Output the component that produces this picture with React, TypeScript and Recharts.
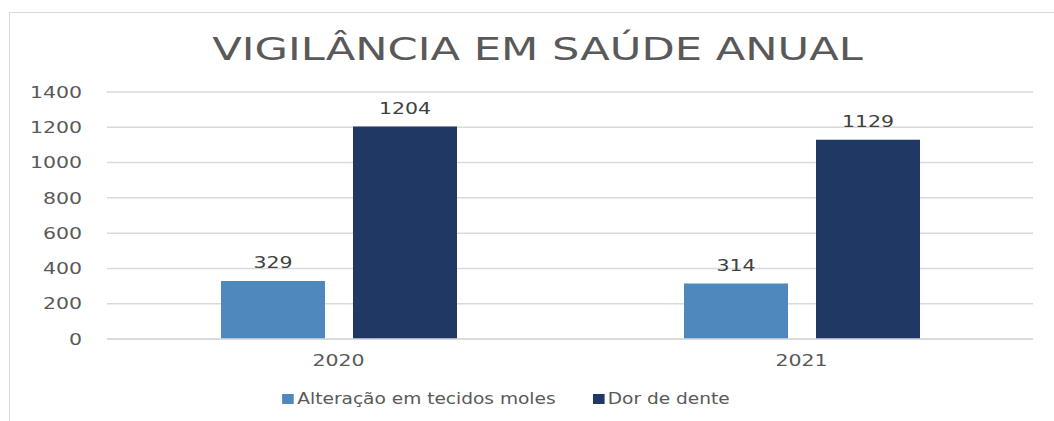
import React from 'react';
import { BarChart, Bar, XAxis, YAxis, CartesianGrid, LabelList } from 'recharts';

const categories = ['2020', '2021'];
const alteracao = [329, 314];
const dorDeDente = [1204, 1129];
const yTicks = [0, 200, 400, 600, 800, 1000, 1200, 1400];
const seriesNames = ['Alteração em tecidos moles', 'Dor de dente'];
const colors = ['#4E88BC', '#203864'];

const data = categories.map((c, i) => ({ name: c, a: alteracao[i], b: dorDeDente[i] }));

const FONT = '"DejaVu Sans", sans-serif';
const SX = 1.28;

const YTick = (props: any) => {
  const { x, y, payload } = props;
  return (
    <text transform={`translate(${x},${y}) scale(${SX},1)`} textAnchor="end" dominantBaseline="central" fill="#595959" fontSize={16} fontFamily={FONT}>
      {payload.value}
    </text>
  );
};

const XTick = (props: any) => {
  const { x, y, payload } = props;
  return (
    <text transform={`translate(${x},${y}) scale(${SX},1)`} textAnchor="middle" dy="0.71em" fill="#595959" fontSize={16} fontFamily={FONT}>
      {payload.value}
    </text>
  );
};

const BarLabel = (props: any) => {
  const { x, y, width, value } = props;
  return (
    <text transform={`translate(${x + width / 2},${y - 13}) scale(${SX},1)`} textAnchor="middle" fill="#404040" fontSize={16} fontFamily={FONT}>
      {value}
    </text>
  );
};

export default function App() {
  return (
    <div style={{ position: 'absolute', left: 0, top: 0, width: 1054, height: 421, background: '#fff', overflow: 'hidden' }}>
      <div style={{ position: 'absolute', left: 9, top: 12, width: 1100, height: 450, border: '1.5px solid #d9d9d9', boxSizing: 'border-box' }} />
      <div style={{ position: 'absolute', left: 0, top: 30, width: 1075, textAlign: 'center', fontFamily: FONT, fontSize: 32, color: '#595959', whiteSpace: 'nowrap', transform: 'scaleX(1.35)', transformOrigin: '537.5px 0' }}>
        VIGILÂNCIA EM SAÚDE ANUAL
      </div>
      <div style={{ position: 'absolute', left: 0, top: 0 }}>
        <BarChart width={1054} height={421} data={data} margin={{ top: 92, right: 21, bottom: 52, left: 0 }} barGap={28} barSize={104}>
          <CartesianGrid vertical={false} stroke="#d9d9d9" strokeWidth={1.5} />
          <XAxis dataKey="name" height={30} axisLine={{ stroke: '#d9d9d9', strokeWidth: 1.5 }} tickLine={false} tickSize={0} tickMargin={16} tick={<XTick />} />
          <YAxis domain={[0, 1400]} ticks={yTicks} width={107} axisLine={false} tickLine={false} tickSize={0} tickMargin={25} tick={<YTick />} interval={0} />
          <Bar dataKey="a" name={seriesNames[0]} fill={colors[0]} isAnimationActive={false}>
            <LabelList dataKey="a" content={<BarLabel />} />
          </Bar>
          <Bar dataKey="b" name={seriesNames[1]} fill={colors[1]} isAnimationActive={false}>
            <LabelList dataKey="b" content={<BarLabel />} />
          </Bar>
        </BarChart>
      </div>
      <div style={{ position: 'absolute', left: -21, top: 389, width: 1054, display: 'flex', justifyContent: 'center', fontFamily: FONT, fontSize: 16, color: '#595959', whiteSpace: 'nowrap', transform: 'scaleX(1.16)', transformOrigin: '527px 0' }}>
        {seriesNames.map((n, i) => (
          <div key={n} style={{ display: 'flex', alignItems: 'center', marginLeft: i === 1 ? 32 : 0 }}>
            <span style={{ display: 'inline-block', width: 10, height: 10, background: colors[i], marginRight: 3 }} />
            <span>{n}</span>
          </div>
        ))}
      </div>
    </div>
  );
}
